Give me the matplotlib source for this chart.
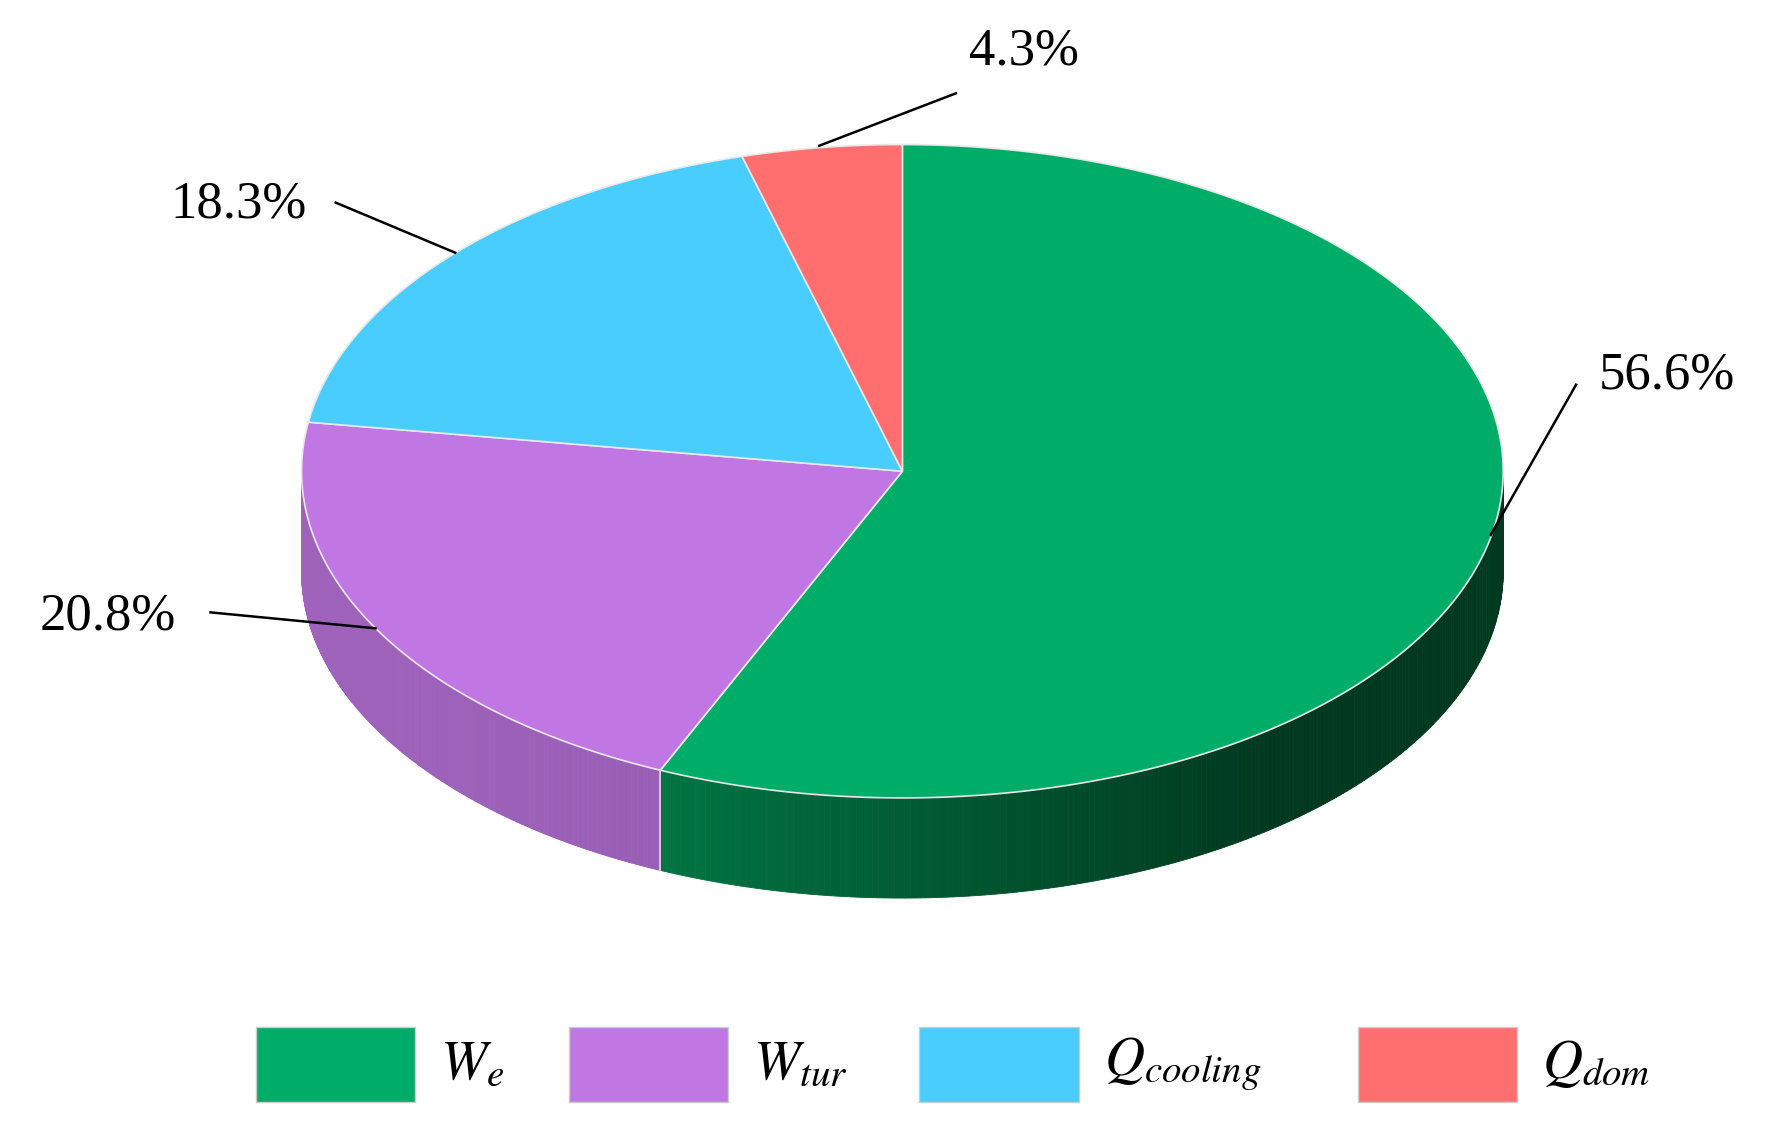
import numpy as np
import matplotlib
matplotlib.use("Agg")
import matplotlib.pyplot as plt
from matplotlib.patches import Polygon, Rectangle
from matplotlib.colors import to_rgb

labels = [r"$W_e$", r"$W_{tur}$", r"$Q_{cooling}$", r"$Q_{dom}$"]
values = [56.6, 20.8, 18.3, 4.3]
pct_text = ["56.6%", "20.8%", "18.3%", "4.3%"]
colors = ["#00ad68", "#c077e3", "#48cdfd", "#ff6f6f"]
side_colors = [("#007a45", "#00391f"), ("#9f63bc", "#8a52a3"), ("#3aa8d0", "#3aa8d0"), ("#d05a5a", "#d05a5a")]

plt.rcParams['mathtext.fontset'] = 'stix'
plt.rcParams['font.family'] = ['Liberation Serif', 'DejaVu Serif']

W, H = 1566, 991
fig = plt.figure(figsize=(17.82, 11.28), dpi=100)
ax = fig.add_axes([0, 0, 1, 1])
ax.set_xlim(0, W); ax.set_ylim(H, 0); ax.axis('off')

cx, cy, rx, ry, depth = 793, 414, 528, 287, 88
def pt(t, dy=0):
    return cx + rx*np.cos(np.radians(t)), cy - ry*np.sin(np.radians(t)) + dy

tot = sum(values)
starts, ends = [], []
t0 = 90.0
for v in values:
    t1 = t0 - 360*v/tot
    starts.append(t0); ends.append(t1); t0 = t1

# sides (front half: t in [180,360] mod 360)
for i in range(len(values)):
    a, b = ends[i], starts[i]
    ts = np.linspace(a, b, 400)
    for k in range(len(ts)-1):
        tm = (ts[k]+ts[k+1])/2
        if np.sin(np.radians(tm)) >= 0:
            continue
        c0, c1 = np.array(to_rgb(side_colors[i][0])), np.array(to_rgb(side_colors[i][1]))
        f = (np.cos(np.radians(tm)) + 1)/2
        if i == 0:
            f = min(1, max(0, (np.cos(np.radians(tm)) + 0.5)/1.1))
        col = c0*(1-f) + c1*f
        p1, p2 = pt(ts[k]), pt(ts[k+1])
        q2, q1 = pt(ts[k+1], depth), pt(ts[k], depth)
        ax.add_patch(Polygon([p1, p2, q2, q1], closed=True, fc=col, ec=col, lw=0.6))
# divider line on side
x, y = pt(ends[0])
ax.plot([x, x], [y, y+depth], color="#dddddd", lw=1.2)

# top faces
for i in range(len(values)):
    ts = np.linspace(starts[i], ends[i], 300)
    xs, ys = pt(ts)
    poly = [(cx, cy)] + list(zip(xs, ys))
    ax.add_patch(Polygon(poly, closed=True, fc=colors[i], ec="#e8e8e8", lw=1.2))

# labels with leader lines
lab_pos = [(1465, 330), (95, 542), (210, 180), (900, 45)]
line_pts = [((1385, 338), (1310, 470)), ((185, 538), (330, 552)),
            ((295, 178), (400, 222)), ((840, 82), (720, 128))]
for i in range(4):
    (x0, y0), (x1, y1) = line_pts[i]
    ax.plot([x0, x1], [y0, y1], color="black", lw=1.8)
    ax.text(*lab_pos[i], pct_text[i], fontsize=38, ha='center', va='center')

# legend
boxes = [225, 500, 808, 1193]
for i in range(4):
    ax.add_patch(Rectangle((boxes[i], 902), 140, 66, fc=colors[i], ec="#cccccc", lw=1))
    ax.text(boxes[i]+162, 935, labels[i], fontsize=40, ha='left', va='center')

fig.savefig("out.png", dpi=100)
